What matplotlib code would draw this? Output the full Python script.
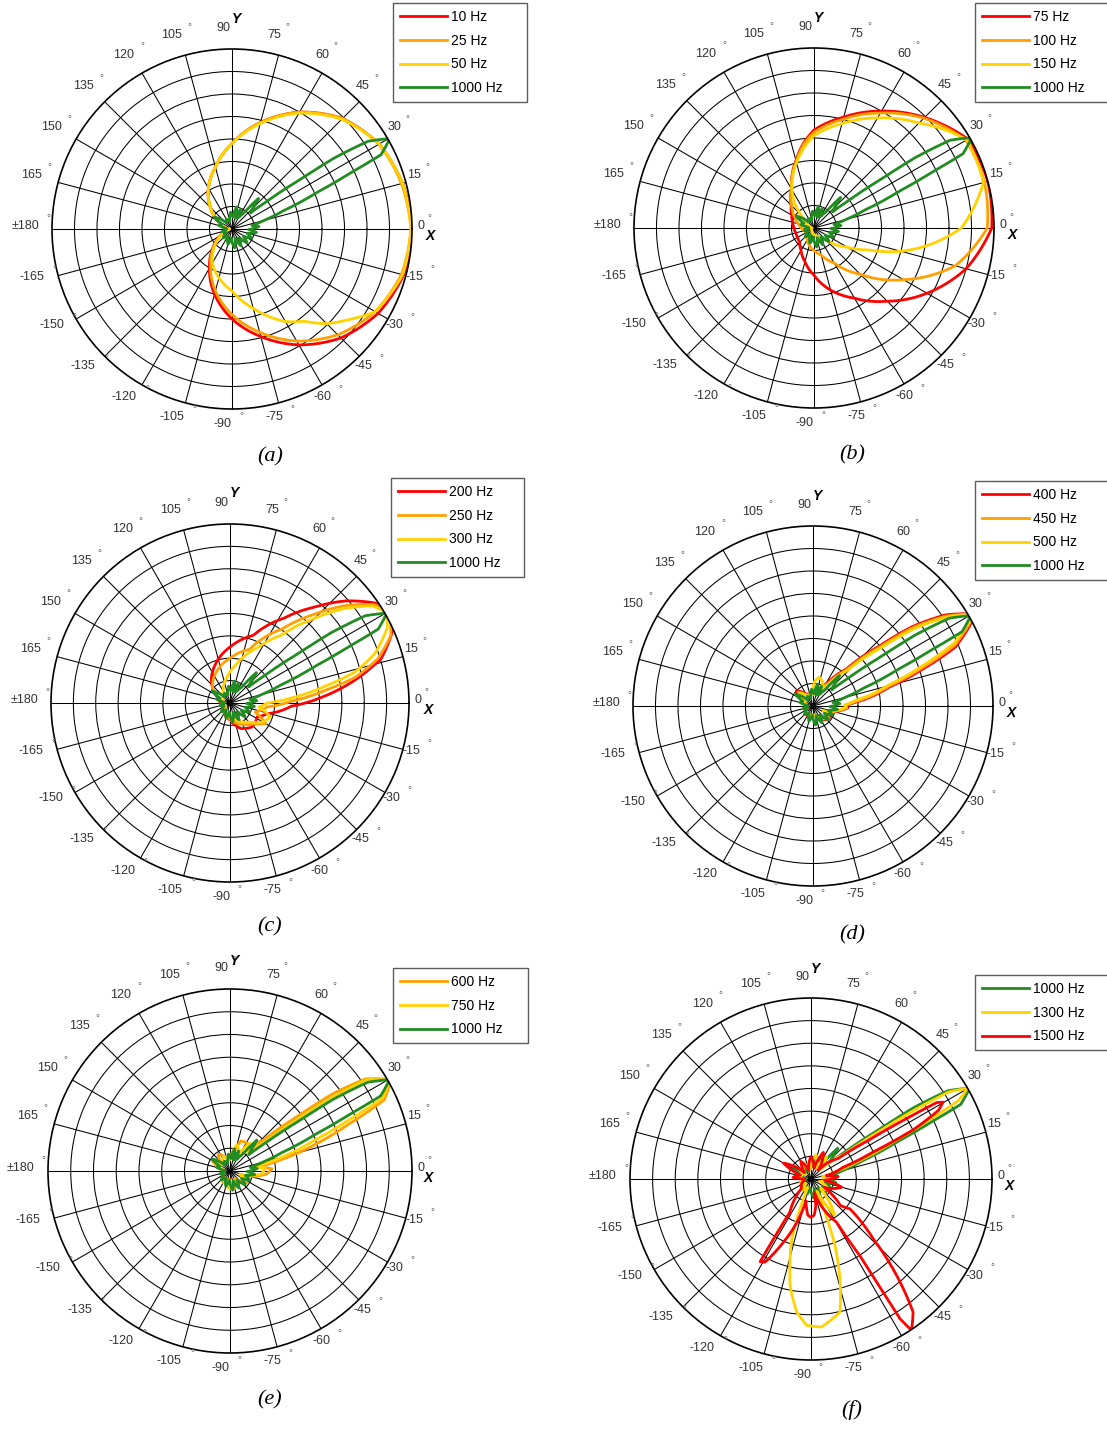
import numpy as np
import matplotlib
matplotlib.use("Agg")
import matplotlib.pyplot as plt

W, H, DPI = 1107, 1433, 100

plt.rcParams["font.family"] = ["Liberation Sans", "DejaVu Sans"]

RED = "#FF0000"
ORANGE = "#FFA000"
YELLOW = "#FFD200"
GREEN = "#228B22"

# ---- 1000 Hz reference pattern (same in every panel) ----
green_th = [-180, -165, -150, -135, -120, -105, -95, -82, -72, -62, -52, -42, -33, -25, -16, -8, -2,
            5, 10, 15, 19.5, 23.3, 25.3, 26.5, 29.8, 32.8, 34.8, 36, 38.5, 41, 45, 49, 53, 60, 67,
            72, 78, 86, 95, 105, 120, 132, 146, 155, 165, 172, 180]
green_r = [0.25, 0.45, 0.3, 0.55, 0.35, 0.7, 0.4, 0.85, 0.45, 0.85, 0.5, 0.9, 0.6, 0.95, 0.7, 1.1, 0.75,
           1.2, 0.9, 1.45, 2.4, 4.1, 5.8, 7.4, 8.08, 7.2, 5.5, 3.7, 1.9, 1.1, 1.3, 1.8, 0.9, 0.6, 0.95,
           0.5, 1.0, 0.55, 0.75, 0.35, 0.5, 0.35, 0.95, 0.5, 0.6, 0.3, 0.25]

# ---- (a) 10 / 25 / 50 Hz ----
a_th = [-180, -165, -150, -135, -120, -105, -90, -75, -60, -45, -30, -15, 0,
        15, 30, 45, 60, 75, 90, 105, 120, 135, 150, 165, 180]
a_red_r = [0.15, 0.25, 0.6, 1.2, 2.0, 3.0, 4.0, 4.95, 5.95, 6.85, 7.5, 7.9, 8.0,
           7.85, 7.55, 6.95, 6.0, 4.9, 3.8, 2.85, 2.1, 1.35, 0.75, 0.35, 0.15]
a_orange_r = [0.15, 0.2, 0.55, 1.15, 1.9, 2.85, 3.8, 4.75, 5.75, 6.65, 7.35, 7.8, 7.95,
              7.8, 7.55, 6.95, 6.0, 4.9, 3.8, 2.85, 2.1, 1.35, 0.75, 0.35, 0.15]
a_yellow_th = [-180, -165, -150, -135, -120, -105, -90, -75, -60, -52, -45, -38, -30, -15, 0,
               15, 30, 45, 60, 75, 90, 105, 120, 135, 150, 165, 180]
a_yellow_r = [0.12, 0.2, 0.55, 1.1, 1.75, 2.25, 2.75, 3.65, 4.75, 5.2, 5.95, 6.55, 7.35, 7.85, 7.95,
              7.85, 7.55, 6.9, 5.95, 4.85, 3.8, 2.85, 2.1, 1.35, 0.75, 0.35, 0.12]

# ---- (b) 75 / 100 / 150 Hz ----
b_th = [-180, -165, -150, -135, -120, -105, -90, -75, -60, -45, -30, -15, 0,
        15, 30, 45, 60, 75, 90, 97, 105, 120, 135, 150, 165, 180]
b_red_r = [0.89, 0.84, 0.84, 0.9, 1.15, 1.55, 2.1, 2.86, 3.6, 4.6, 5.8, 7.0, 7.9,
           8.0, 7.9, 6.95, 6.0, 5.1, 4.35, 3.8, 3.1, 2.0, 1.43, 1.14, 0.98, 0.89]
b_orange_r = [0.55, 0.45, 0.4, 0.45, 0.6, 0.8, 1.0, 1.25, 1.8, 2.9, 4.6, 6.5, 7.7,
              7.85, 7.8, 6.9, 5.9, 5.0, 4.25, 3.75, 3.05, 2.0, 1.4, 1.0, 0.72, 0.55]
b_yellow_th = [-180, -165, -150, -135, -120, -105, -90, -75, -60, -45, -30, -22, -15, -7, 0,
               15, 30, 45, 60, 75, 90, 97, 105, 120, 128, 135, 150, 165, 180]
b_yellow_r = [0.1, 0.1, 0.12, 0.15, 0.18, 0.22, 0.28, 0.35, 0.45, 0.75, 1.7, 2.6, 4.0, 5.4, 6.55,
              7.8, 7.85, 6.6, 5.65, 4.8, 4.1, 3.6, 3.0, 1.95, 1.4, 0.8, 0.3, 0.15, 0.1]

# ---- (c) 200 / 250 / 300 Hz ----
c_red_th = [-146, -88, -67, -47, -27, -16, -3, 4, 10.5, 16.5, 23.5, 29.2, 34.4, 41.4, 48.4,
            57.4, 71, 90, 110, 138, 160, 214]
c_red_r = [0.32, 0.77, 1.24, 1.46, 1.37, 1.73, 2.74, 4.2, 5.7, 7.06, 7.9, 8.2, 7.9, 6.9, 5.74,
           4.51, 3.2, 2.5, 1.87, 1.06, 0.5, 0.32]
c_orange_th = [-150, -100, -60, -41, -30, -20, -6, 1.5, 7.3, 11.7, 16.7, 22.8, 28.4, 34, 40.2,
               46.6, 54.8, 70, 90, 112, 125, 138, 160, 210]
c_orange_r = [0.3, 0.6, 1.1, 1.41, 1.84, 1.2, 1.67, 2.71, 4.2, 5.73, 6.9, 7.8, 8.13, 7.85, 6.74,
              5.44, 4.05, 2.55, 2.0, 1.55, 1.3, 1.05, 0.4, 0.3]
c_yellow_th = [-150, -90, -45, -30.5, -19, -8, 0, 4.5, 9.7, 14, 18.9, 25.6, 30, 34.3, 39.5,
               45.4, 53, 63, 80, 96, 120, 160, 210]
c_yellow_r = [0.25, 0.5, 1.2, 1.67, 1.92, 1.3, 1.67, 2.71, 4.21, 5.77, 6.85, 7.8, 8.1, 7.7, 6.64,
              5.27, 3.79, 2.8, 1.77, 1.17, 0.6, 0.3, 0.25]

# ---- (d) 400 / 450 / 500 Hz ----
d_red_th = [-160, -120, -80, -50, -36, -25, -10, -3, 2, 5, 14, 18.5, 22.5, 27.5, 30.2, 34.5, 38.5,
            42, 48, 58, 70, 90, 120, 137, 150, 175, 200]
d_red_r = [0.3, 0.5, 0.4, 0.8, 0.9, 0.6, 1.2, 1.55, 1.5, 1.9, 3.5, 5.1, 6.85, 7.9, 8.15, 7.15, 5.7,
           4.0, 2.2, 1.2, 0.8, 0.5, 0.6, 1.0, 0.5, 0.3, 0.3]
d_orange_th = [-160, -120, -80, -50, -36, -25, -10, -3, 2, 6, 14.8, 19.2, 23.2, 28, 30.2, 34, 38,
               41.3, 47, 56, 70, 90, 120, 137, 150, 175, 200]
d_orange_r = [0.3, 0.45, 0.45, 0.75, 0.85, 0.55, 1.15, 1.5, 1.45, 1.9, 3.5, 5.1, 6.85, 7.9, 8.12, 7.15, 5.7,
              4.0, 2.2, 1.2, 0.75, 0.5, 0.55, 0.9, 0.45, 0.3, 0.3]
d_yellow_th = [-160, -120, -80, -50, -36, -25, -10, -3, 2, 7.5, 15.6, 20, 24, 28.4, 30.1, 33.6,
               37.3, 40.5, 46, 54, 62, 70, 78, 86, 95, 120, 137, 150, 175, 200]
d_yellow_r = [0.3, 0.45, 0.4, 0.7, 0.8, 0.5, 1.1, 1.45, 1.4, 1.9, 3.5, 5.1, 6.85, 7.9, 8.1, 7.15,
              5.7, 4.0, 2.2, 1.2, 0.8, 1.2, 1.3, 1.1, 0.5, 0.5, 0.85, 0.4, 0.3, 0.3]

# ---- (e) 600 / 750 Hz ----
e_orange_th = [-160, -120, -95, -75, -55, -35, -20, -5, 3, 8, 12.5, 17.3, 21.5, 24.8, 29.6, 34.2,
               37, 38.9, 42.5, 50, 60, 70, 80, 100, 125, 140, 150, 165, 200]
e_orange_r = [0.3, 0.6, 0.35, 0.8, 0.4, 0.9, 0.5, 1.6, 1.85, 1.2, 2.3, 3.9, 5.58, 7.47, 8.15, 7.2,
              5.59, 3.84, 2.05, 1.2, 1.45, 1.4, 0.7, 0.5, 0.9, 0.5, 0.9, 0.4, 0.3]
e_yellow_th = [-160, -120, -90, -60, -40, -20, -5, 5, 10, 15, 20, 23.2, 25.6, 29.7, 33.8, 35.8,
               37.3, 40, 45, 55, 62, 75, 90, 115, 140, 150, 165, 200]
e_yellow_r = [0.3, 0.5, 0.8, 0.45, 0.85, 0.45, 1.4, 1.55, 1.0, 2.35, 3.95, 5.65, 7.45, 8.1, 7.2, 5.5,
              3.8, 2.0, 1.1, 1.5, 0.8, 1.2, 0.5, 0.7, 0.4, 0.8, 0.3, 0.3]

# ---- (f) 1300 / 1500 Hz ----
f_yellow_th = [-180, -160, -140, -125, -112, -111, -107.8, -103.7, -101.1, -96.1, -91.7, -86,
               -77.7, -73.8, -70.2, -68.3, -65, -60, -57, -52, -45, -30, -15, 0, 10, 16, 21,
               24.5, 26.5, 28, 30.1, 32.3, 33.7, 35, 37, 45, 55, 65, 78, 95, 115, 140, 160, 180]
f_yellow_r = [0.3, 0.5, 0.3, 0.6, 0.4, 0.94, 2.78, 3.93, 4.8, 5.91, 6.47, 6.56,
              6.02, 4.59, 3.13, 2.06, 0.6, 1.3, 1.9, 1.4, 0.6, 0.9, 0.4, 0.8, 0.5, 1.0, 2.4,
              4.1, 5.8, 7.4, 8.0, 7.2, 5.5, 3.6, 1.8, 0.6, 1.2, 0.5, 1.1, 0.4, 0.8, 0.3, 0.6, 0.3]
f_red_th = [-180, -170, -150, -135, -122.5, -122, -121.6, -119, -113.6, -108, -103, -100, -95, -90,
            -85, -80, -76, -59.4, -57.5, -57.5, -57.5, -56.4, -52.5, -48.4, -43.9, -37.5, -42, -32,
            -25, -15, -5, 5, 12, 20, 23.5, 25.7, 28.3, 30.2, 31.3, 32.3, 34, 37, 45, 50, 65, 75,
            90, 105, 120, 135, 150, 160, 175, 180]
f_red_r = [0.3, 0.3, 0.5, 0.6, 1.74, 3.12, 4.29, 4.2, 3.05, 2.01, 1.0, 1.2, 1.6, 1.7,
           1.6, 1.2, 0.6, 2.22, 4.01, 5.93, 7.32, 8.03, 7.41, 5.7, 3.82, 2.17, 1.75, 0.7,
           1.0, 1.4, 0.6, 1.2, 0.7, 1.5, 3.0, 5.0, 6.4, 6.75, 6.5, 5.0, 3.0, 1.5, 1.0, 0.5, 1.3, 0.5,
           1.0, 0.4, 0.9, 0.4, 1.4, 0.5, 0.8, 0.3]

# panel layout: centre x, centre y, radius (px), legend box (x0, y0, w, h), caption position
panels = [
    dict(c=(232, 229, 180), leg=(393, 3, 134, 102), cap=("(a)", 270, 457),
         curves=[("10 Hz", RED, a_th, a_red_r), ("25 Hz", ORANGE, a_th, a_orange_r),
                 ("50 Hz", YELLOW, a_yellow_th, a_yellow_r), ("1000 Hz", GREEN, green_th, green_r)]),
    dict(c=(814, 228, 180), leg=(975, 3, 134, 101), cap=("(b)", 852, 455),
         curves=[("75 Hz", RED, b_th, b_red_r), ("100 Hz", ORANGE, b_th, b_orange_r),
                 ("150 Hz", YELLOW, b_yellow_th, b_yellow_r), ("1000 Hz", GREEN, green_th, green_r)]),
    dict(c=(230, 703, 179), leg=(391, 478, 133, 99), cap=("(c)", 270, 927),
         curves=[("200 Hz", RED, c_red_th, c_red_r), ("250 Hz", ORANGE, c_orange_th, c_orange_r),
                 ("300 Hz", YELLOW, c_yellow_th, c_yellow_r), ("1000 Hz", GREEN, green_th, green_r)]),
    dict(c=(813, 706, 180), leg=(975, 481, 134, 101), cap=("(d)", 852, 935),
         curves=[("400 Hz", RED, d_red_th, d_red_r), ("450 Hz", ORANGE, d_orange_th, d_orange_r),
                 ("500 Hz", YELLOW, d_yellow_th, d_yellow_r), ("1000 Hz", GREEN, green_th, green_r)]),
    dict(c=(230, 1171, 182), leg=(393, 968, 135, 78), cap=("(e)", 270, 1400),
         curves=[("600 Hz", ORANGE, e_orange_th, e_orange_r), ("750 Hz", YELLOW, e_yellow_th, e_yellow_r),
                 ("1000 Hz", GREEN, green_th, green_r)]),
    dict(c=(811, 1179, 181), leg=(975, 975, 134, 77), cap=("(f)", 852, 1410),
         curves=[("1000 Hz", GREEN, green_th, green_r), ("1300 Hz", YELLOW, f_yellow_th, f_yellow_r),
                 ("1500 Hz", RED, f_red_th, f_red_r)]),
]

RMAX = 8

fig = plt.figure(figsize=(W / DPI, H / DPI), dpi=DPI)

for p in panels:
    cx, cy, R = p["c"]
    ax = fig.add_axes([(cx - R) / W, 1 - (cy + R) / H, 2 * R / W, 2 * R / H], projection="polar")
    ax.set_ylim(0, RMAX)
    ax.set_rgrids(np.arange(1, RMAX), labels=[])
    ax.set_thetagrids(np.arange(0, 360, 15), labels=[])
    ax.grid(True, color="black", lw=0.75)
    ax.spines["polar"].set_linewidth(1.2)
    ax.tick_params(length=0)

    handles = []
    for name, color, th, r in p["curves"]:
        (ln,) = ax.plot(np.deg2rad(th), r, color=color, lw=2.0, label=name)
        # let the polar transform bend each segment, as it does for grid lines
        ln.get_path()._interpolation_steps = 12
        handles.append(ln)

    # angle labels with the detached degree sign
    for a in range(-165, 181, 15):
        txt = "\u00b1180" if a == 180 else str(a)
        t = np.deg2rad(a)
        ax.annotate(txt, xy=(t, RMAX * 1.1), xytext=(-9, 3), textcoords="offset pixels",
                    ha="center", va="center", fontsize=9, color="#333333",
                    annotation_clip=False)
        ax.annotate("\u00b0", xy=(t, RMAX * 1.1), xytext=(-9 + 5 * len(txt) + 3, 11),
                    textcoords="offset pixels", ha="center", va="center",
                    fontsize=7, color="#666666", annotation_clip=False)

    ax.text(0.5 + 198 / (2 * R), 0.5 - 7 / (2 * R), "X", transform=ax.transAxes,
            ha="center", va="center", fontsize=10, fontweight="bold", style="italic")
    ax.text(0.5 + 4 / (2 * R), 0.5 + 210 / (2 * R), "Y", transform=ax.transAxes,
            ha="center", va="center", fontsize=10, fontweight="bold", style="italic")

    x0, y0, w, h = p["leg"]
    fig.legend(handles=handles, loc="upper left",
               bbox_to_anchor=(x0 / W, 1 - (y0 + h) / H, w / W, h / H), mode="expand",
               fontsize=10, frameon=True, fancybox=False, edgecolor="#333333",
               borderaxespad=0, handlelength=3.4, handletextpad=0.3,
               labelspacing=0.7, borderpad=0.5)

    label, lx, ly = p["cap"]
    fig.text(lx / W, 1 - ly / H, label, ha="center", va="center", fontsize=16,
             family="Liberation Serif", style="italic")

fig.savefig("out.png", dpi=DPI)
